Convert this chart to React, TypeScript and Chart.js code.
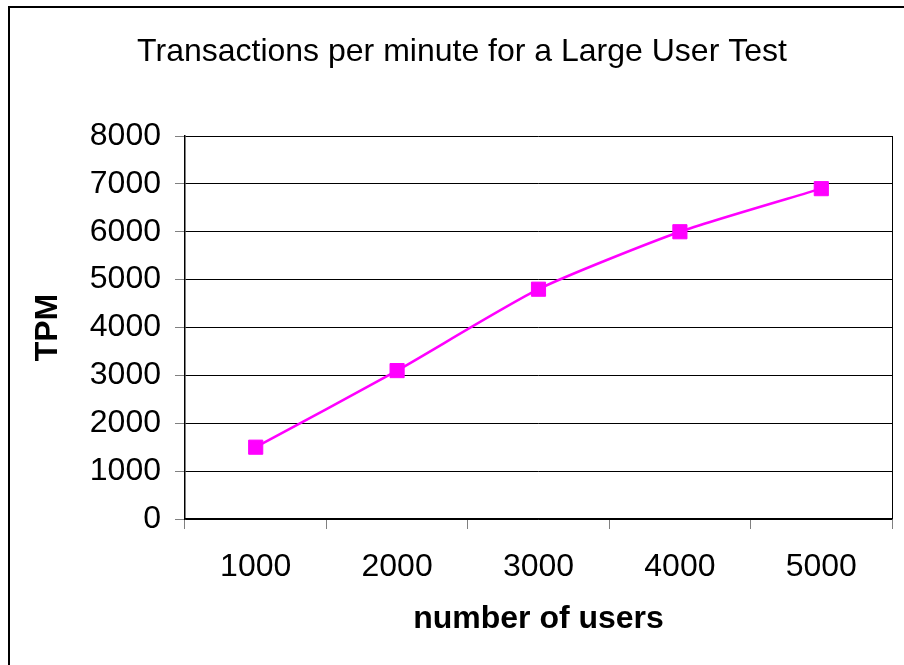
import React, { useEffect, useRef } from 'react';
import { Chart, registerables } from 'chart.js';

Chart.register(...registerables);

const users = ['1000', '2000', '3000', '4000', '5000'];
const tpm = [1500, 3100, 4800, 6000, 6900];
const yMin = 0;
const yMax = 8000;
const yStep = 1000;

const chartTitle = 'Transactions per minute for a Large User Test';
const xTitle = 'number of users';
const yTitle = 'TPM';

const FONT = "'Liberation Sans', Arial, Helvetica, sans-serif";

const framePlugin = {
  id: 'frame',
  beforeDraw(chart: any) {
    const { ctx, width, height } = chart;
    ctx.save();
    ctx.fillStyle = '#ffffff';
    ctx.fillRect(0, 0, width, height);
    ctx.strokeStyle = '#000000';
    ctx.lineWidth = 2;
    ctx.beginPath();
    ctx.moveTo(9, height + 5);
    ctx.lineTo(9, 7);
    ctx.lineTo(width + 5, 7);
    ctx.stroke();
    ctx.restore();
  },
  beforeDatasetsDraw(chart: any) {
    const { ctx, chartArea } = chart;
    ctx.save();
    ctx.strokeStyle = '#000000';
    ctx.lineWidth = 1;
    ctx.beginPath();
    ctx.moveTo(Math.round(chartArea.right) + 0.5, chartArea.top);
    ctx.lineTo(Math.round(chartArea.right) + 0.5, chartArea.bottom);
    ctx.stroke();
    ctx.restore();
  },
};

export default function App() {
  const ref = useRef<HTMLCanvasElement>(null);

  useEffect(() => {
    if (!ref.current) return;
    const chart = new Chart(ref.current, {
      type: 'line',
      data: {
        labels: users,
        datasets: [
          {
            label: 'TPM',
            data: tpm,
            borderColor: '#ff00ff',
            backgroundColor: '#ff00ff',
            borderWidth: 2.5,
            tension: 0.2,
            pointStyle: 'rect',
            pointRadius: 10,
            pointHoverRadius: 10,
            pointBorderWidth: 1,
            pointBackgroundColor: '#ff00ff',
            pointBorderColor: '#ff00ff',
            fill: false,
          },
        ],
      },
      options: {
        responsive: false,
        animation: false,
        devicePixelRatio: 1,
        layout: { padding: { left: 32, right: 12, top: 0, bottom: 0 } },
        plugins: {
          legend: { display: false },
          tooltip: { enabled: false },
          title: {
            display: true,
            text: chartTitle,
            color: '#000000',
            font: { family: FONT, size: 32, weight: 'normal', lineHeight: 1.2 },
            padding: { top: 33, bottom: 64.6 },
          },
        },
        scales: {
          x: {
            type: 'category',
            offset: true,
            grid: {
              offset: true,
              drawOnChartArea: false,
              drawTicks: true,
              tickLength: 10,
              color: '#808080',
              lineWidth: 1,
            },
            border: { display: true, color: '#000000', width: 1.5 },
            ticks: {
              color: '#000000',
              font: { family: FONT, size: 32 },
              padding: 19,
              maxRotation: 0,
            },
            title: {
              display: true,
              text: xTitle,
              color: '#000000',
              font: { family: FONT, size: 32, weight: 'bold', lineHeight: 1.2 },
              padding: { top: 0, bottom: 27 },
            },
            afterFit(scale: any) {
              scale.height = 146;
            },
          },
          y: {
            type: 'linear',
            min: yMin,
            max: yMax,
            ticks: {
              stepSize: yStep,
              color: '#000000',
              font: { family: FONT, size: 32 },
              padding: 14,
              callback: (v: any) => String(v),
            },
            grid: {
              color: '#000000',
              lineWidth: 1,
              tickLength: 10,
              tickColor: '#808080',
            },
            border: { display: true, color: '#000000', width: 1.5 },
            title: {
              display: true,
              text: yTitle,
              color: '#000000',
              font: { family: FONT, size: 32, weight: 'bold', lineHeight: 1 },
              padding: { top: 0, bottom: 0 },
            },
            afterFit(scale: any) {
              scale.width = 153;
            },
          },
        },
      },
      plugins: [framePlugin],
    } as any);
    return () => chart.destroy();
  }, []);

  return (
    <div style={{ position: 'fixed', left: 0, top: 0, width: 904, height: 665, background: '#fff' }}>
      <canvas ref={ref} width={904} height={665} style={{ display: 'block', width: 904, height: 665 }} />
    </div>
  );
}
